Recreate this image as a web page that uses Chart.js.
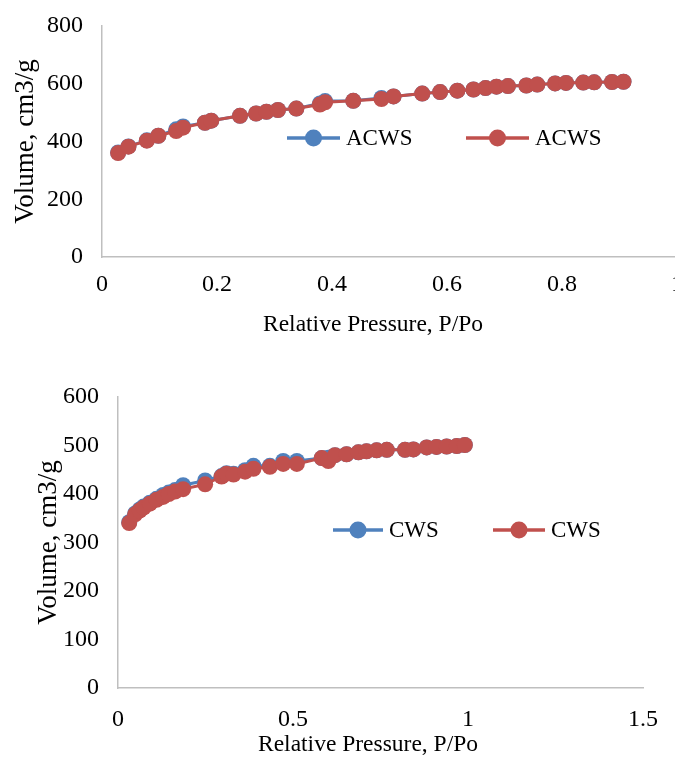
<!DOCTYPE html>
<html>
<head>
<meta charset="utf-8">
<script src="https://cdn.jsdelivr.net/npm/chart.js@4/dist/chart.umd.min.js"></script>
<style>
    html, body { margin: 0; padding: 0; background: #fff; overflow: hidden; width: 675px; height: 758px; }
    .box { position: absolute; left: 0; }
    #topBox { top: 0; }
    #bottomBox { top: 370px; }
</style>
</head>
<body>
<div class="box" id="topBox"><canvas id="acwsChart" width="690" height="345"></canvas></div>
<div class="box" id="bottomBox"><canvas id="cwsChart" width="675" height="388"></canvas></div>
<script>
// ACWS isotherm (top chart)
const acwsP = [0.028, 0.046, 0.078, 0.098, 0.129, 0.141, 0.179, 0.19, 0.24, 0.268, 0.286, 0.306, 0.338, 0.379, 0.388, 0.437, 0.486, 0.507, 0.557, 0.588, 0.618, 0.646, 0.667, 0.686, 0.706, 0.738, 0.757, 0.788, 0.807, 0.837, 0.856, 0.887, 0.907];
const acwsBlue = [362, 383, 404, 420, 442, 452, 465, 472, 489, 497, 503, 509, 514, 532, 540, 541, 551, 556, 566, 571, 576, 580, 585, 590, 592, 594, 597, 601, 603, 604, 605, 606, 607];
const acwsRed = [360, 382, 403, 420, 436, 448, 465, 472, 489, 497, 503, 509, 514, 528, 536, 541, 547, 556, 566, 571, 576, 580, 585, 590, 592, 594, 597, 601, 603, 604, 605, 606, 607];

// CWS isotherm (bottom chart)
const cwsP = [0.032, 0.049, 0.062, 0.073, 0.091, 0.11, 0.129, 0.145, 0.163, 0.186, 0.249, 0.296, 0.31, 0.33, 0.363, 0.387, 0.434, 0.472, 0.511, 0.582, 0.601, 0.62, 0.653, 0.687, 0.71, 0.739, 0.768, 0.82, 0.844, 0.882, 0.91, 0.939, 0.968, 0.991];
const cwsBlue = [342, 360, 368, 374, 382, 390, 398, 403, 408, 418, 428, 437, 443, 442, 449, 458, 458, 468, 468, 474, 475, 480, 482, 486, 488, 490, 491, 491, 492, 496, 497, 498, 499, 501];
const cwsRed = [340, 358, 366, 372, 380, 388, 394, 400, 405, 410, 420, 436, 442, 440, 446, 452, 456, 462, 462, 474, 468, 480, 482, 486, 488, 490, 491, 491, 492, 496, 497, 498, 499, 501];

const xTitle = 'Relative Pressure, P/Po';
const yTitle = 'Volume, cm3/g';

const BLUE = '#4F81BD';
const RED = '#C0504D';
const SERIF = "'Liberation Serif', 'Times New Roman', serif";
const AXIS_GREY = '#BFBFBF';

function toPoints(xs, ys) {
    return xs.map((x, i) => ({ x: x, y: ys[i] }));
}

// Legend drawn inside the plot, like the Excel original
const inlineLegend = {
    id: 'inlineLegend',
    afterDraw(chart, args, opts) {
        const ctx = chart.ctx;
        ctx.save();
        chart.data.datasets.forEach((ds, i) => {
            const item = opts.items[i];
            if (!item) return;
            ctx.strokeStyle = ds.borderColor;
            ctx.lineWidth = 3.5;
            ctx.beginPath();
            ctx.moveTo(item.x, opts.y);
            ctx.lineTo(item.x + item.w, opts.y);
            ctx.stroke();
            ctx.fillStyle = ds.backgroundColor;
            ctx.beginPath();
            ctx.arc(item.x + item.w / 2, opts.y, 8.5, 0, Math.PI * 2);
            ctx.fill();
            ctx.fillStyle = '#000';
            ctx.font = `23px ${SERIF}`;
            ctx.textBaseline = 'middle';
            ctx.textAlign = 'left';
            ctx.fillText(ds.label, item.x + item.w + 6, opts.y + 1);
        });
        ctx.restore();
    }
};

// x-axis title sits a bit left of the plot centre in the original
const xAxisTitle = {
    id: 'xAxisTitle',
    afterDraw(chart, args, opts) {
        const ctx = chart.ctx;
        ctx.save();
        ctx.fillStyle = '#000';
        ctx.font = `23.5px ${SERIF}`;
        ctx.textAlign = 'center';
        ctx.textBaseline = 'middle';
        ctx.fillText(opts.text, opts.x, opts.y);
        ctx.restore();
    }
};

function makeDataset(label, color, points, order) {
    return {
        label: label,
        data: points,
        borderColor: color,
        backgroundColor: color,
        borderWidth: 3,
        pointRadius: 8,
        pointBorderWidth: 0,
        pointBackgroundColor: color,
        tension: 0,
        order: order
    };
}

const fmtTick = v => String(Number(v.toFixed(2)));

function makeChart(id, cfg) {
    return new Chart(document.getElementById(id), {
        type: 'line',
        data: {
            datasets: [
                makeDataset(cfg.name, BLUE, toPoints(cfg.xs, cfg.blue), 1),
                makeDataset(cfg.name, RED, toPoints(cfg.xs, cfg.red), 0)
            ]
        },
        plugins: [inlineLegend, xAxisTitle],
        options: {
            responsive: false,
            animation: false,
            devicePixelRatio: 1,
            layout: { padding: cfg.padding },
            plugins: {
                legend: { display: false },
                tooltip: { enabled: false },
                inlineLegend: cfg.legend,
                xAxisTitle: { text: xTitle, x: cfg.xTitlePos[0], y: cfg.xTitlePos[1] }
            },
            scales: {
                x: {
                    type: 'linear',
                    min: 0,
                    max: cfg.xMax,
                    grid: { display: false, drawTicks: false },
                    border: { color: AXIS_GREY, width: 1.5 },
                    ticks: { stepSize: cfg.xStep, callback: fmtTick, color: '#000', font: { family: SERIF, size: 24 }, padding: cfg.xTickPad, maxRotation: 0 },
                    afterFit: s => { s.height = cfg.xHeight; s.paddingLeft = 0; s.paddingRight = 0; }
                },
                y: {
                    min: 0,
                    max: cfg.yMax,
                    grid: { display: false, drawTicks: false },
                    border: { color: AXIS_GREY, width: 1.5 },
                    ticks: { stepSize: cfg.yStep, color: '#000', font: { family: SERIF, size: 24 }, padding: 19 },
                    title: { display: true, text: yTitle, color: '#000', font: { family: SERIF, size: 27 }, padding: { top: cfg.yTitlePad, bottom: 0 } },
                    afterFit: s => { s.width = cfg.yWidth; s.paddingTop = 0; s.paddingBottom = 0; }
                }
            }
        }
    });
}

makeChart('acwsChart', {
    name: 'ACWS', xs: acwsP, blue: acwsBlue, red: acwsRed,
    xMax: 1, xStep: 0.2, yMax: 800, yStep: 200,
    padding: { top: 26, right: 13, left: 0, bottom: 0 },
    xHeight: 88, yWidth: 102, xTickPad: 13, yTitlePad: 10,
    xTitlePos: [373, 325],
    legend: { y: 138, items: [{ x: 287, w: 53 }, { x: 466, w: 63 }] }
});

makeChart('cwsChart', {
    name: 'CWS', xs: cwsP, blue: cwsBlue, red: cwsRed,
    xMax: 1.5, xStep: 0.5, yMax: 600, yStep: 100,
    padding: { top: 27, right: 32, left: 0, bottom: 0 },
    xHeight: 70, yWidth: 118, xTickPad: 17, yTitlePad: 33,
    xTitlePos: [368, 375],
    legend: { y: 160, items: [{ x: 333, w: 50 }, { x: 493, w: 52 }] }
});
</script>
</body>
</html>
